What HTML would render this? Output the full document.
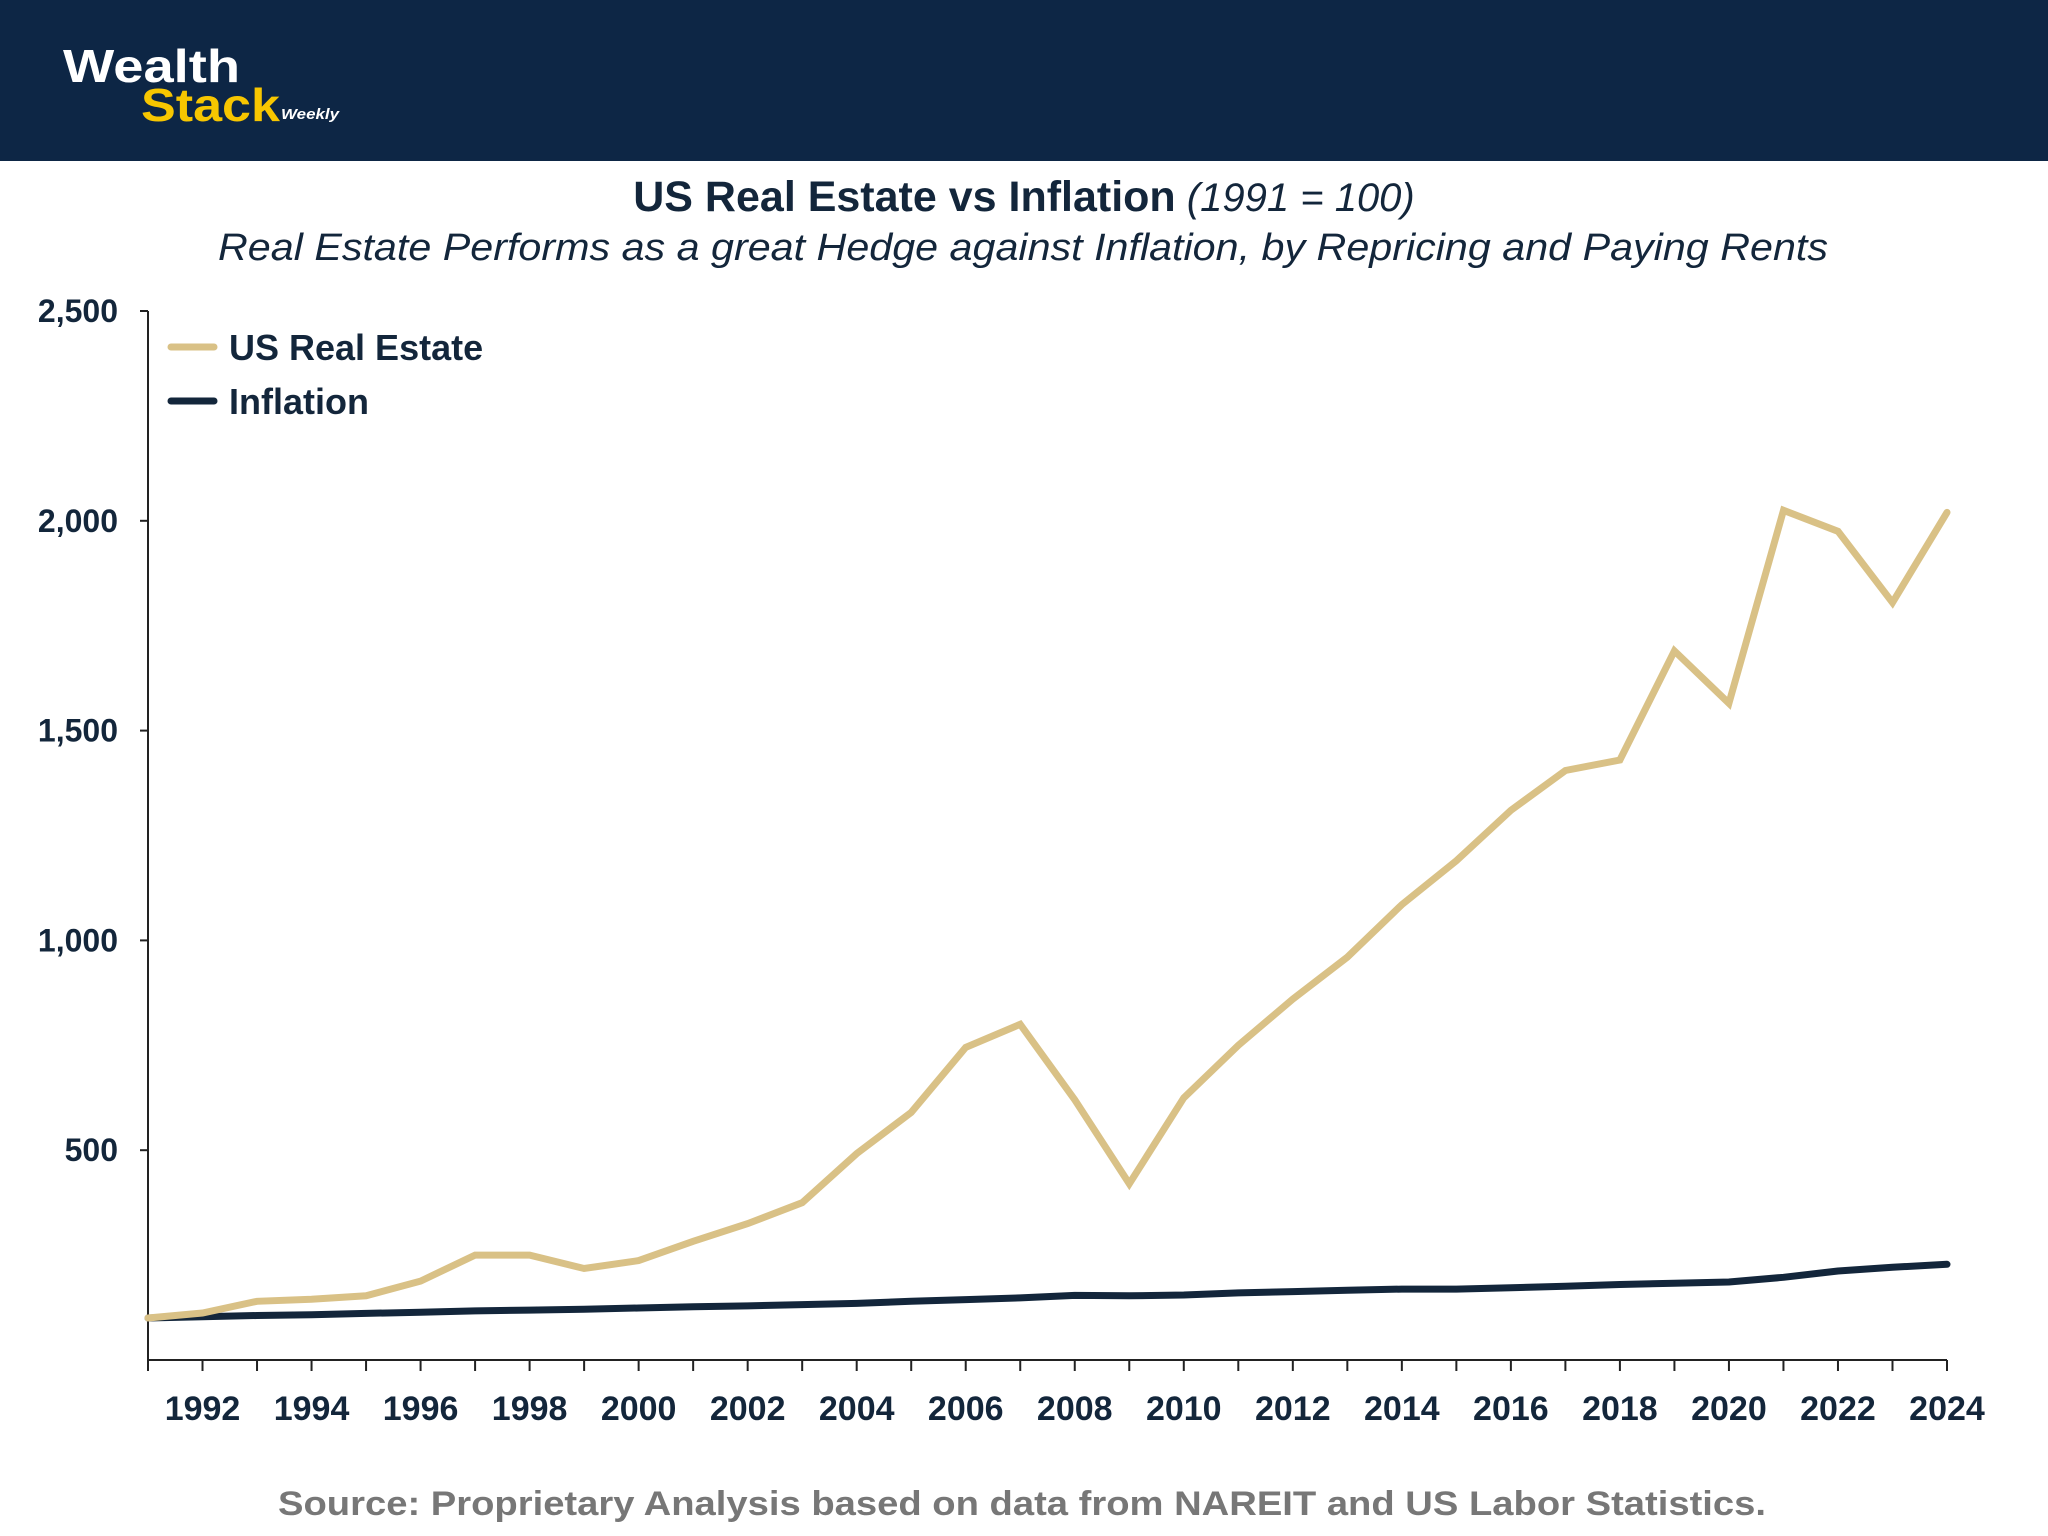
<!DOCTYPE html>
<html><head><meta charset="utf-8"><style>
html,body{margin:0;padding:0;background:#fff;}
svg{display:block;}
</style></head><body>
<svg id="chart" width="2048" height="1536" viewBox="0 0 2048 1536" xmlns="http://www.w3.org/2000/svg">
<rect x="0" y="0" width="2048" height="161" fill="#0d2645"/>
<g font-family="Liberation Sans, sans-serif" font-weight="bold">
<text x="63" y="82" font-size="46" fill="#fff" textLength="177" lengthAdjust="spacingAndGlyphs">Wealth</text>
<text x="141" y="121" font-size="46" fill="#f7c600" textLength="139" lengthAdjust="spacingAndGlyphs">Stack</text>
<text x="281" y="119" font-size="15" font-style="italic" fill="#fff" textLength="58" lengthAdjust="spacingAndGlyphs">Weekly</text>
</g>
<text x="1024" y="211" text-anchor="middle" font-family="Liberation Sans, sans-serif" font-size="43" fill="#13263b"><tspan font-weight="bold">US Real Estate vs Inflation</tspan><tspan font-style="italic" font-size="40">  (1991 = 100)</tspan></text>
<text x="1023" y="260" text-anchor="middle" font-family="Liberation Sans, sans-serif" font-size="38" font-style="italic" fill="#13263b" textLength="1610" lengthAdjust="spacingAndGlyphs">Real Estate Performs as a great Hedge against Inflation, by Repricing and Paying Rents</text>
<g id="axes"></g>
<g id="lines"></g>
<g font-family="Liberation Sans, sans-serif" font-weight="bold" font-size="36" fill="#13263b">
<line x1="171" y1="347" x2="214" y2="347" stroke="#d9c186" stroke-width="7" stroke-linecap="round"/>
<text x="229" y="360">US Real Estate</text>
<line x1="171" y1="401" x2="214" y2="401" stroke="#13263b" stroke-width="7" stroke-linecap="round"/>
<text x="229" y="414">Inflation</text>
</g>
<text x="1022" y="1515" text-anchor="middle" font-family="Liberation Sans, sans-serif" font-weight="bold" font-size="34" fill="#777" textLength="1488" lengthAdjust="spacingAndGlyphs">Source: Proprietary Analysis based on data from NAREIT and US Labor Statistics.</text>
</svg>
<script>
const years = [1991,1992,1993,1994,1995,1996,1997,1998,1999,2000,2001,2002,2003,2004,2005,2006,2007,2008,2009,2010,2011,2012,2013,2014,2015,2016,2017,2018,2019,2020,2021,2022,2023,2024];
const realEstate = [100,112,140,145,153,188,250,250,218,237,283,325,375,492,590,745,800,620,420,625,750,860,960,1085,1190,1310,1405,1430,1690,1565,2025,1975,1805,2020];
const inflation = [100,103,106,108,111,114,117,119,121,124,127,129,132,135,140,144,148,154,153,155,160,163,166,169,169,172,176,180,183,186,197,212,221,228];
const yTicks = [500,1000,1500,2000,2500];
const yTickLabels = ["500","1,000","1,500","2,000","2,500"];
const xTickYears = [1992,1994,1996,1998,2000,2002,2004,2006,2008,2010,2012,2014,2016,2018,2020,2022,2024];

const NS="http://www.w3.org/2000/svg";
const X0=148,X1=1947,Y0=1360,Y1=311;
function xs(y){return X0+(y-1991)/(2024-1991)*(X1-X0);}
function ys(v){return Y0-(v/2500)*(Y0-Y1);}
function mk(tag,attrs,parent){const e=document.createElementNS(NS,tag);for(const k in attrs)e.setAttribute(k,attrs[k]);parent.appendChild(e);return e;}
const axes=document.getElementById('axes');
const lines=document.getElementById('lines');
let a=mk('line',{x1:X0,y1:Y1,x2:X0,y2:Y0,stroke:'#222','stroke-width':2},axes);


a=mk('line',{x1:X0,y1:Y0,x2:X1,y2:Y0,stroke:'#222','stroke-width':2},axes);


yTicks.forEach((v,i)=>{
  const t=mk('line',{x1:X0-8,y1:ys(v),x2:X0,y2:ys(v),stroke:'#222','stroke-width':2},axes);
  
  
  const l=mk('text',{x:118,y:ys(v)+11,'text-anchor':'end','font-family':'Liberation Sans, sans-serif','font-weight':'bold','font-size':32,fill:'#13263b'},axes);
  l.textContent=yTickLabels[i];
  
  
});
years.forEach(y=>{
  const t=mk('line',{x1:xs(y),y1:Y0,x2:xs(y),y2:Y0+11,stroke:'#222','stroke-width':2},axes);
  
  
});
xTickYears.forEach(y=>{
  const l=mk('text',{x:xs(y),y:1420,'text-anchor':'middle','font-family':'Liberation Sans, sans-serif','font-weight':'bold','font-size':34,fill:'#13263b'},axes);
  l.textContent=String(y);
  
  
});
function pts(arr){return years.map((y,i)=>xs(y).toFixed(1)+','+ys(arr[i]).toFixed(1)).join(' ');}
let p=mk('polyline',{points:pts(inflation),fill:'none',stroke:'#13263b','stroke-width':7,'stroke-linejoin':'round','stroke-linecap':'round'},lines);


p=mk('polyline',{points:pts(realEstate),fill:'none',stroke:'#d9c186','stroke-width':7,'stroke-linejoin':'miter','stroke-linecap':'round'},lines);


</script>
</body></html>
